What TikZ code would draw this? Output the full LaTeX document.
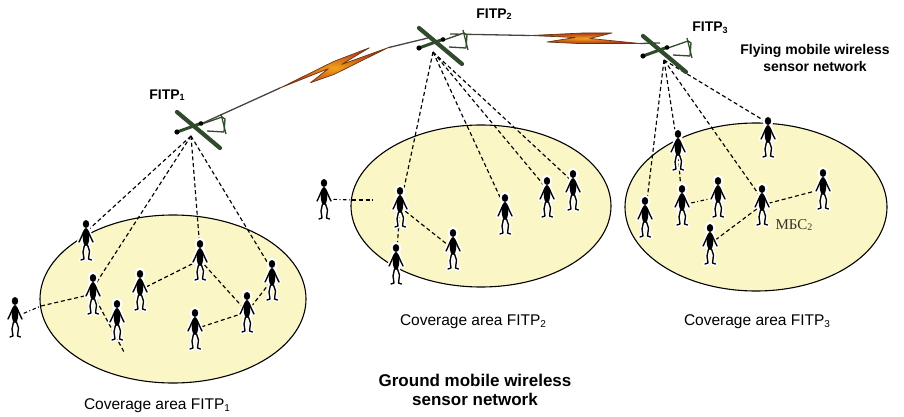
\documentclass[tikz,border=0pt]{standalone}
\usepackage{fontspec}
\setmainfont{Liberation Sans}
\newfontfamily\cyrserif{Liberation Serif}
\usetikzlibrary{shapes.geometric}

% lowered index digit, default size 9pt
\newcommand{\lowidx}[2][9]{\raisebox{-1.6pt}{\fontsize{#1}{#1}\selectfont #2}}

\definecolor{areafill}{HTML}{FAF6C6}
\definecolor{planegreen}{HTML}{2F4B2C}
\definecolor{linkgray}{HTML}{4A4440}
\definecolor{boltedge}{HTML}{6B3510}
\definecolor{boltcore}{HTML}{F2A21A}
\definecolor{boltouter}{HTML}{B0381A}
\definecolor{cyrlabel}{HTML}{3B3426}

\begin{document}
\begin{tikzpicture}[x=1pt, y=-1pt,
  area/.style={ellipse, draw=black, line width=1.1pt, fill=areafill, inner sep=0pt},
  radio/.style={draw=black, line width=1.15pt, dash pattern=on 4pt off 2.8pt},
  radioout/.style={draw=black, line width=1.1pt, dash pattern=on 3.5pt off 2.5pt on 1pt off 2.5pt},
  link/.style={draw=linkgray, line width=1.3pt},
  bolt/.style={draw=boltedge, line width=0.7pt, line join=round,
               inner color=boltcore, outer color=boltouter},
  halo/.style={draw=white, fill=white, line width=4.5pt, line join=round, line cap=round},
  limb/.style={draw=black, line width=1.35pt, line join=round, line cap=round},
  planeline/.style={draw=planegreen, line width=1.3pt, line join=round},
  wingline/.style={draw=planegreen, line width=4.2pt, line cap=round},
  bodyline/.style={draw=planegreen, line width=3pt},
  title/.style={font=\fontsize{14}{17}\selectfont\bfseries, align=center},
  bigtitle/.style={font=\fontsize{17}{18.5}\selectfont\bfseries, align=center},
  caption/.style={font=\fontsize{15.5}{17}\selectfont},
  person/.pic={
    % white cut-out round the figure
    \path[halo] (0,-16) ellipse [x radius=3.2, y radius=4]
                (0,-3) ellipse [x radius=3.3, y radius=9];
    \path[halo] (-2,-9) -- (-5.5,-1) -- (-7,2)
                (2,-9) -- (5.5,-1) -- (7,2)
                (-1.5,5) -- (-3,12) -- (-2,19) -- (-5,20)
                (1.5,5) -- (3.5,11) -- (2.5,19) -- (5.5,20);
    % the figure itself
    \fill[black] (0,-16) ellipse [x radius=3.2, y radius=4]
                 (0,-3) ellipse [x radius=3.3, y radius=9];
    \path[limb] (-2,-9) -- (-5.5,-1) -- (-7,2)
                (2,-9) -- (5.5,-1) -- (7,2)
                (-1.5,5) -- (-3,12) -- (-2,19) -- (-5,20)
                (1.5,5) -- (3.5,11) -- (2.5,19) -- (5.5,20);
  },
  plane/.pic={
    % twin booms and tail
    \path[planeline, fill=white] (4,-6) -- (24,-13) -- (27,-11) -- (26,2) -- (9,1);
    \path[planeline] (23,-16) -- (28,4);
    % wing and fuselage with engines
    \path[wingline] (-21,-18) -- (22,18);
    \path[bodyline] (-21,2) -- (4,-7);
    \fill[black] (-21,2) circle (2.6);
    \fill[black] (3,-6.5) circle (2.3);
  }
]

\useasboundingbox (0,0) rectangle (904,417);
\fill[white] (0,0) rectangle (904,417);

% coverage areas
\node[area, minimum width=266, minimum height=168] (cov1) at (173,299) {};
\node[area, minimum width=260, minimum height=162] (cov2) at (481,206) {};
\node[area, minimum width=262, minimum height=168] (cov3) at (756,207) {};

% aircraft positions, belly points and antenna points
\coordinate (P1) at (198,130);
\coordinate (P2) at (440,46);
\coordinate (P3) at (664,54);
\coordinate (B1) at (191,136);
\coordinate (B2) at (433,52);
\coordinate (B3) at (664,60);
\coordinate (A1) at (203,123);
\coordinate (A2l) at (428,38);
\coordinate (A2r) at (450,34);
\coordinate (A3) at (660,43);

% ground nodes
\foreach \n/\x/\y in {a0/15/317, a1/86/240, a2/93/294, a3/117/320, a4/140/290,
                      a5/200/260, a6/272/280, a7/247/312, a8/195/329,
                      b0/324/199, b1/400/207, b2/396/264, b3/453/249,
                      b4/505/214, b5/547/197, b6/573/190,
                      c1/768/137, c2/678/150, c3/682/205, c4/718/197,
                      c5/645/217, c6/762/205, c7/823/189, c8/710/244}
  \coordinate (\n) at (\x,\y);

\coordinate (e1) at (41,306);
\coordinate (e2) at (352,200);
\coordinate (a2end) at (124,352);
\coordinate (b0end) at (373,200);

% air-to-ground radio links
\draw[radio] (B1) -- ([yshift=8pt]a1);
\draw[radio] (B1) -- ([yshift=6pt]a2);
\draw[radio] (B1) -- ([yshift=10pt]a5);
\draw[radio] (B1) -- ([yshift=10pt]a6);
\draw[radio] (B2) -- (b1);
\draw[radio] (B2) -- ([yshift=6pt]b4);
\draw[radio] (B2) -- ([yshift=8pt]b5);
\draw[radio] (B2) -- ([yshift=8pt]b6);
\draw[radio] (B3) -- (c5);
\draw[radio] (B3) -- (c2);
\draw[radio] (B3) -- ([yshift=6pt]c6);
\draw[radio] (B3) -- ([yshift=14pt]c1);

% ground-to-ground radio links
\draw[radioout] (a0) -- (e1);
\draw[radio] (e1) -- (a2);
\draw[radio] (a2) -- (a2end);
\draw[radio] (a4) -- (a5);
\draw[radio] (a5) -- (a7);
\draw[radio] (a8) -- (a7);
\draw[radio] (a7) -- (a6);
\draw[radioout] (b0) -- (e2);
\draw[radio] (e2) -- (b0end);
\draw[radio] (b1) -- (b2);
\draw[radio] (b1) -- (b3);
\draw[radio] (c2) -- (c3);
\draw[radioout] (c3) -- (c4);
\draw[radio] (c8) -- (c6);
\draw[radio] (c6) -- (c7);

% air-to-air links with lightning
\coordinate (z1s) at (280,88);
\coordinate (z1e) at (388,47.7);
\coordinate (z2s) at (530,35.5);
\coordinate (z2e) at (640,43.5);
\draw[link] (A1) -- (z1s);
\draw[link] (z1e) -- (A2l);
\draw[link] (A2r) -- (z2s);
\draw[link] (z2e) -- (A3);
\path[bolt] (z1s) -- (333.8,61.4) -- (369.4,47.8) -- (341.7,64.4) -- (z1e)
            -- (334.1,74.4) -- (310.5,82.7) -- (328.3,68.7) -- cycle;
\path[bolt] (z2s) -- (583,33) -- (612,33) -- (590,38.5) -- (z2e)
            -- (578,43.5) -- (547,42) -- (575,37.5) -- cycle;

% aircraft
\pic at (P1) {plane};
\pic at (P2) {plane};
\pic at (P3) {plane};

% people
\foreach \n in {a0,a1,a2,a3,a4,a5,a6,a7,a8,b0,b1,b2,b3,b4,b5,b6,c1,c2,c3,c4,c5,c6,c7,c8}
  \pic at (\n) {person};

% labels
\node[title] (fitp1) at (167,95) {FITP\lowidx{1}};
\node[title] (fitp2) at (494,14) {FITP\lowidx{2}};
\node[title] (fitp3) at (710,28) {FITP\lowidx{3}};
\node[title] (flying) at (815,58) {Flying mobile wireless\\sensor network};
\node[bigtitle] (ground) at (475,390) {Ground mobile wireless\\sensor network};
\node[caption] (cap1) at (157,406) {Coverage area FITP\lowidx[10]{1}};
\node[caption] (cap2) at (473,322) {Coverage area FITP\lowidx[10]{2}};
\node[caption] (cap3) at (757,322) {Coverage area FITP\lowidx[10]{3}};
\node[font=\fontsize{15}{17}\selectfont\cyrserif, text=cyrlabel] (mbs) at (794,225) {МБС\lowidx[10]{2}};

\end{tikzpicture}
\end{document}
